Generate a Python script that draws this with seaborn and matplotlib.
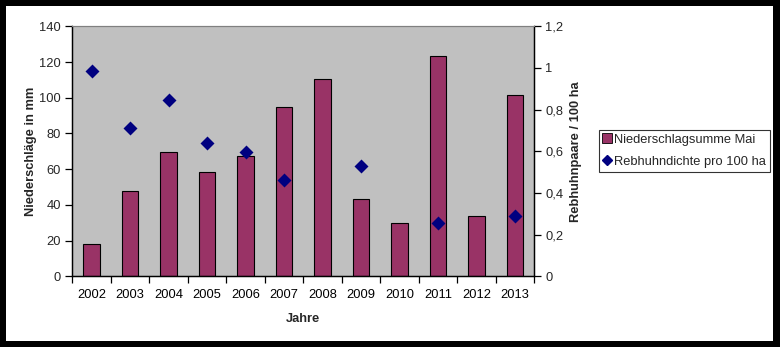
import matplotlib
matplotlib.use("Agg")
import matplotlib.pyplot as plt
from matplotlib.patches import Rectangle
from matplotlib.lines import Line2D
from matplotlib.ticker import FixedLocator, FuncFormatter
import numpy as np
import pandas as pd
import seaborn as sns

years = ["2002", "2003", "2004", "2005", "2006", "2007",
         "2008", "2009", "2010", "2011", "2012", "2013"]
niederschlag_mai = [18, 47.6, 69.4, 58.2, 67.2, 94.6, 110.3, 43.1, 29.7, 123.2, 33.6, 101.3]
rebhuhndichte = [0.984, 0.71, 0.845, 0.638, 0.595, 0.461, np.nan, 0.528, np.nan, 0.254, np.nan, 0.288]
left_ticks = [0, 20, 40, 60, 80, 100, 120, 140]
right_ticks = [0, 0.2, 0.4, 0.6, 0.8, 1.0, 1.2]

bar_color = "#993366"
dot_color = "#000080"
bg_color = "#C0C0C0"
fs = 9.3

sns.set_theme(style="white")
plt.rcParams["font.family"] = ["Liberation Sans", "DejaVu Sans"]

df = pd.DataFrame({"Jahr": years, "Niederschlag": niederschlag_mai, "Dichte": rebhuhndichte})

fig = plt.figure(figsize=(7.8, 3.47), dpi=100, facecolor="black")
fig.patches.append(Rectangle((6 / 780, 6.5 / 347), (780 - 13) / 780, (347 - 12.5) / 347,
                             transform=fig.transFigure, facecolor="white", edgecolor="none", zorder=-10))

ax = fig.add_axes([72.3 / 780, (347 - 276.3) / 347, 462 / 780, 250 / 347])
ax.set_facecolor(bg_color)

sns.barplot(data=df, x="Jahr", y="Niederschlag", order=years, color=bar_color,
            saturation=1, width=0.42, edgecolor="black", linewidth=0.8, ax=ax)

ax2 = ax.twinx()
sns.pointplot(data=df, x="Jahr", y="Dichte", order=years, color=dot_color,
              markers="D", linestyle="none", errorbar=None, markersize=5.6, ax=ax2)

ax.set_xlim(-0.5, 11.5)
ax.set_ylim(0, 140)
ax2.set_ylim(0, 1.2)

ax.yaxis.set_major_locator(FixedLocator(left_ticks))
ax2.yaxis.set_major_locator(FixedLocator(right_ticks))
ax2.yaxis.set_major_formatter(FuncFormatter(lambda v, p: f"{v:g}".replace(".", ",")))

# category boundaries carry the tick marks, labels sit at the centres
ax.set_xticks(np.arange(-0.5, 12, 1.0))
ax.set_xticklabels([])
ax.set_xticks(np.arange(12), minor=True)
ax.set_xticklabels(years, minor=True)
ax.tick_params(axis="x", which="major", direction="out", length=5, width=0.9, color="black")
ax.tick_params(axis="x", which="minor", length=0, pad=9, labelsize=fs, colors="black")
ax.tick_params(axis="y", direction="out", length=5, width=0.9, color="black", labelsize=fs, pad=3)
ax2.tick_params(axis="y", direction="out", length=5, width=0.9, color="black", labelsize=fs, pad=3)
ax.tick_params(left=True, bottom=True)
ax2.tick_params(right=True)

for a in (ax, ax2):
    a.spines["top"].set_color("#808080")
    a.spines["top"].set_linewidth(0.8)
    a.spines["left"].set_color("black")
    a.spines["bottom"].set_color("black")
    a.spines["right"].set_color("black")
    for s in ("left", "bottom", "right"):
        a.spines[s].set_linewidth(0.9)

ax.set_xlabel("Jahre", fontsize=fs, fontweight="bold", labelpad=9)
ax.set_ylabel("Niederschläge in mm", fontsize=fs, fontweight="bold", labelpad=2)
ax2.set_ylabel("Rebhuhnpaare / 100 ha", fontsize=fs, fontweight="bold", labelpad=5)

handles = [
    Line2D([], [], marker="s", linestyle="none", markerfacecolor=bar_color,
           markeredgecolor="black", markeredgewidth=0.6, markersize=7),
    Line2D([], [], marker="D", linestyle="none", markerfacecolor=dot_color,
           markeredgecolor=dot_color, markersize=5.5),
]
leg = fig.legend(handles, ["Niederschlagsumme Mai", "Rebhuhndichte pro 100 ha"],
                 loc="upper left", bbox_to_anchor=(599 / 780, 1 - 130 / 347),
                 fontsize=fs, frameon=True, fancybox=False, borderpad=0.3,
                 handlelength=0.7, handletextpad=0.2, labelspacing=0.75, borderaxespad=0)
leg.get_frame().set_edgecolor("black")
leg.get_frame().set_linewidth(0.8)
leg.get_frame().set_facecolor("white")

fig.savefig("out.png", dpi=100, facecolor=fig.get_facecolor())
